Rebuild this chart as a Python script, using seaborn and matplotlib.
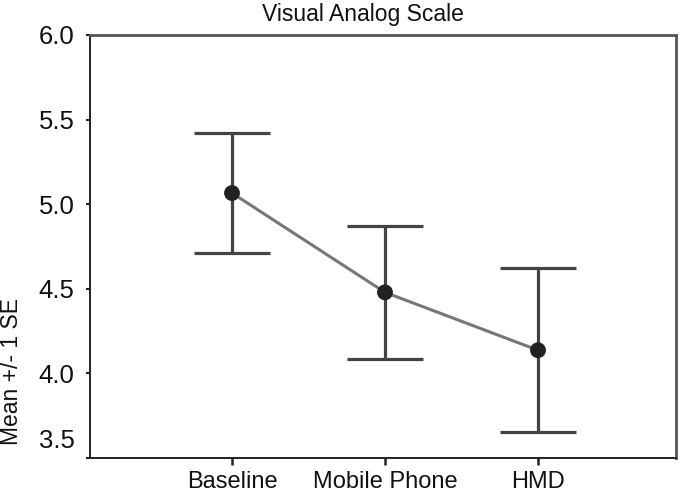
import numpy as np
import pandas as pd
import matplotlib
matplotlib.use("Agg")
import matplotlib.pyplot as plt
import matplotlib.transforms as mtransforms
import seaborn as sns

categories = ["Baseline", "Mobile Phone", "HMD"]
means = [5.066, 4.479, 4.137]
se = [0.355, 0.394, 0.485]
y_ticks = [3.5, 4.0, 4.5, 5.0, 5.5, 6.0]
title = "Visual Analog Scale"
ylabel = "Mean +/- 1 SE"

sns.set_theme(style="white")
plt.rcParams["font.family"] = ["Liberation Sans", "DejaVu Sans"]

df = pd.DataFrame({"cond": categories, "pos": np.arange(len(categories)),
                   "mean": means, "se": se})

fig = plt.figure(figsize=(6.8, 4.91), dpi=100)
ax = fig.add_axes([90 / 680, 1 - 458 / 491, 586 / 680, 423 / 491])

sns.lineplot(data=df, x="pos", y="mean", ax=ax, color="#777777",
             linewidth=2.2, sort=False, zorder=2)
ax.errorbar(df["pos"], df["mean"], yerr=df["se"], fmt="none",
            ecolor="#444444", elinewidth=2.3, capsize=27.5, capthick=2.3, zorder=3)
sns.scatterplot(data=df, x="pos", y="mean", ax=ax, color="#222222",
                s=130, edgecolor="none", zorder=4)

ax.set_xlim(-0.928, 2.902)
ax.set_ylim(3.5, 6.0)
ax.set_xticks(df["pos"])
ax.set_xticklabels(categories)
ax.set_yticks(y_ticks)
ax.set_yticklabels([f"{v:.1f}" for v in y_ticks])

ax.set_xlabel("")
ax.set_ylabel(ylabel, fontsize=16.5, color="#111111")
ax.yaxis.set_label_coords(-0.115, 0.205)
ax.set_title(title, fontsize=16.5, x=0.466, pad=10, color="#111111")

ax.tick_params(axis="y", direction="out", length=3, width=1.5, colors="#222222",
               labelsize=18.5, pad=8, left=True)
ax.tick_params(axis="x", direction="out", length=5, width=1.8, colors="#222222",
               labelsize=17, pad=4, bottom=True)
for lab in ax.get_xticklabels() + ax.get_yticklabels():
    lab.set_color("#111111")

for side in ["left", "bottom"]:
    ax.spines[side].set_color("#222222")
    ax.spines[side].set_linewidth(1.4)
for side in ["top", "right"]:
    ax.spines[side].set_color("#555555")
    ax.spines[side].set_linewidth(2.0)

# the lowest tick label sits slightly above the axis line, as in the reference
lab0 = ax.yaxis.get_major_ticks()[0].label1
lab0.set_transform(lab0.get_transform() +
                   mtransforms.ScaledTranslation(0, 0.2, fig.dpi_scale_trans))

fig.savefig("out.png", dpi=100)
